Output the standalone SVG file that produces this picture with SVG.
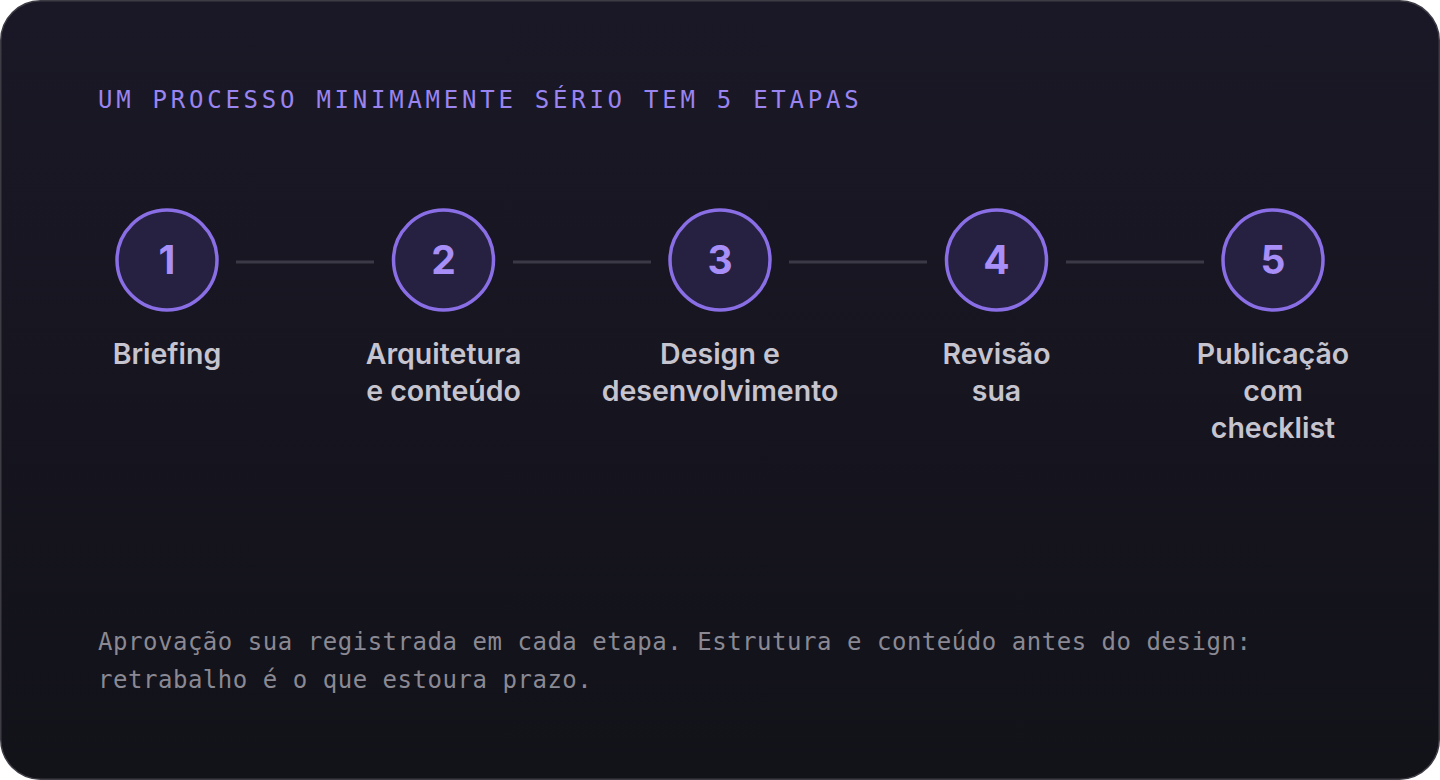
<svg xmlns="http://www.w3.org/2000/svg" width="1440" height="780" viewBox="0 0 1440 780">
  <defs>
    <linearGradient id="bg" x1="0" y1="0" x2="0" y2="1">
      <stop offset="0" stop-color="#1a1826"/>
      <stop offset="1" stop-color="#121219"/>
    </linearGradient>
    <style>
      .title { font-family: "DejaVu Sans Mono", "Liberation Mono", monospace; font-size: 24px; letter-spacing: 3.75px; fill: #9a84f0; }
      .foot { font-family: "DejaVu Sans Mono", "Liberation Mono", monospace; font-size: 24px; letter-spacing: 0.53px; fill: #8a8993; }
      .ring { fill: #262141; stroke: #8a6ee6; stroke-width: 3.5; }
      .num { font-family: Inter, "Liberation Sans", sans-serif; font-weight: 700; font-size: 39px; fill: #a88ef7; text-anchor: middle; }
      .lbl { font-family: Inter, "Liberation Sans", sans-serif; font-weight: 600; font-size: 28.5px; fill: #c6c4ce; text-anchor: middle; }
      .conn { stroke: #3b3946; stroke-width: 3; fill: none; }
    </style>
  </defs>
  <rect x="0" y="0" width="1440" height="780" fill="#ffffff"/>
  <rect x="0.75" y="0.75" width="1438.5" height="778.5" rx="40" ry="40" fill="url(#bg)" stroke="#3d3c45" stroke-width="1.5"/>

  <text class="title" x="98" y="108">UM PROCESSO MINIMAMENTE SÉRIO TEM 5 ETAPAS</text>

  <g id="connectors">
    <line class="conn" x1="236" y1="262" x2="374" y2="262"/>
    <line class="conn" x1="513" y1="262" x2="651" y2="262"/>
    <line class="conn" x1="789" y1="262" x2="927" y2="262"/>
    <line class="conn" x1="1066" y1="262" x2="1204" y2="262"/>
  </g>

  <g id="step1">
    <circle class="ring" cx="167" cy="260" r="50"/>
    <text class="num" x="167" y="274">1</text>
    <text class="lbl" x="167" y="364">Briefing</text>
  </g>
  <g id="step2">
    <circle class="ring" cx="443.5" cy="260" r="50"/>
    <text class="num" x="443.5" y="274">2</text>
    <text class="lbl" x="443.5" y="364">Arquitetura</text>
    <text class="lbl" x="443.5" y="401">e conteúdo</text>
  </g>
  <g id="step3">
    <circle class="ring" cx="720" cy="260" r="50"/>
    <text class="num" x="720" y="274">3</text>
    <text class="lbl" x="720" y="364">Design e</text>
    <text class="lbl" x="720" y="401">desenvolvimento</text>
  </g>
  <g id="step4">
    <circle class="ring" cx="996.5" cy="260" r="50"/>
    <text class="num" x="996.5" y="274">4</text>
    <text class="lbl" x="996.5" y="364">Revisão</text>
    <text class="lbl" x="996.5" y="401">sua</text>
  </g>
  <g id="step5">
    <circle class="ring" cx="1273" cy="260" r="50"/>
    <text class="num" x="1273" y="274">5</text>
    <text class="lbl" x="1273" y="364">Publicação</text>
    <text class="lbl" x="1273" y="401">com</text>
    <text class="lbl" x="1273" y="438">checklist</text>
  </g>

  <text class="foot" x="98" y="650">Aprovação sua registrada em cada etapa. Estrutura e conteúdo antes do design:</text>
  <text class="foot" x="98" y="688">retrabalho é o que estoura prazo.</text>
</svg>
